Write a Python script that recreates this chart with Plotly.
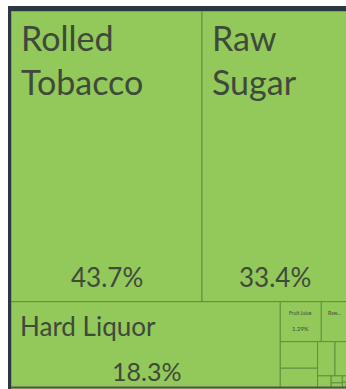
import plotly.graph_objects as go

# ---- data (export shares, %) ----
products = ["Rolled Tobacco", "Raw Sugar", "Hard Liquor", "Fruit Juice", "Raw Tobacco",
            "Crustaceans", "Nickel Mattes", "Coffee", "Molluscs", "Honey",
            "Fish Fillets", "Scrap Copper", "Vaccines", "Cigarettes", "Citrus"]
shares = [43.7, 33.4, 18.3, 1.29, 0.84, 0.78, 0.58, 0.47, 0.35, 0.13,
          0.062, 0.045, 0.028, 0.018, 0.008]

# ---- style ----
FILL = "#93c85a"
EDGE = "#5f8f3e"
FRAME = "#2d3740"
TXT = "#3e4a3a"
FONT = "Lato"
W, H = 337.0, 377.0

# label styling per visible box: (display label, label size, pct size, mode)
label_style = {
    "Rolled Tobacco": ("Rolled<br>Tobacco", 34, 26, "big"),
    "Raw Sugar": ("Raw<br>Sugar", 34, 26, "big"),
    "Hard Liquor": ("Hard Liquor", 26, 25, "wide"),
    "Fruit Juice": ("Fruit Juice", 5, 6, "tiny"),
    "Raw Tobacco": ("Raw...", 5, 0, "tiny"),
}

PHI = (1 + 5 ** 0.5) / 2


def squarify(values, x0, y0, x1, y1, ratio=PHI):
    rects = [None] * len(values)
    n = len(values)
    i0 = i1 = 0
    value = float(sum(values))
    while i0 < n:
        dx, dy = x1 - x0, y1 - y0
        sumv = values[i1]
        i1 += 1
        minv = maxv = sumv
        alpha = max(dy / dx, dx / dy) / (value * ratio)
        beta = sumv * sumv * alpha
        minr = max(maxv / beta, beta / minv)
        while i1 < n:
            nv = values[i1]
            s2 = sumv + nv
            mn, mx = min(minv, nv), max(maxv, nv)
            beta = s2 * s2 * alpha
            nr = max(mx / beta, beta / mn)
            if nr > minr:
                break
            sumv, minv, maxv, minr = s2, mn, mx, nr
            i1 += 1
        row = range(i0, i1)
        if dx < dy:
            yb = y0 + dy * sumv / value
            xx = x0
            for i in row:
                w = dx * values[i] / sumv
                rects[i] = (xx, y0, xx + w, yb)
                xx += w
            y0 = yb
        else:
            xb = x0 + dx * sumv / value
            yy = y0
            for i in row:
                h = dy * values[i] / sumv
                rects[i] = (x0, yy, xb, yy + h)
                yy += h
            x0 = xb
        value -= sumv
        i0 = i1
    return rects


rects = squarify(shares, 0.0, 0.0, W, H)

fig = go.Figure()
shapes = []
annotations = []

for name, val, (x0, y0, x1, y1) in zip(products, shares, rects):
    shapes.append(dict(type="rect", xref="x", yref="y", x0=x0, y0=y0, x1=x1, y1=y1,
                       fillcolor=FILL, line=dict(color=EDGE, width=1), layer="below"))
    if name not in label_style:
        continue
    lab, lsize, psize, mode = label_style[name]
    pct = f"{val:.3g}%"
    cx = (x0 + x1) / 2
    if mode == "big":
        annotations.append(dict(x=x0 + 8, y=y0 + 4, text=lab, xanchor="left", yanchor="top",
                                showarrow=False, font=dict(family=FONT, size=lsize, color=TXT),
                                align="left"))
        annotations.append(dict(x=cx, y=y1 - 25, text=pct, xanchor="center", yanchor="middle",
                                showarrow=False, font=dict(family=FONT, size=psize, color=TXT)))
    elif mode == "wide":
        annotations.append(dict(x=x0 + 7, y=y0 + 6, text=lab, xanchor="left", yanchor="top",
                                showarrow=False, font=dict(family=FONT, size=lsize, color=TXT)))
        annotations.append(dict(x=cx + 1, y=y1 - 17, text=pct, xanchor="center", yanchor="middle",
                                showarrow=False, font=dict(family=FONT, size=psize, color=TXT)))
    else:
        annotations.append(dict(x=cx, y=y0 + 11, text=lab, xanchor="center", yanchor="middle",
                                showarrow=False, font=dict(family=FONT, size=lsize, color=TXT)))
        if psize:
            annotations.append(dict(x=cx, y=y0 + 27, text=pct, xanchor="center", yanchor="middle",
                                    showarrow=False, font=dict(family=FONT, size=psize, color=TXT)))

# frame (dark bars on top and left) and bottom edge
shapes.append(dict(type="rect", xref="x", yref="y", x0=-3, x1=W + 20, y0=-5, y1=0,
                   fillcolor=FRAME, line=dict(width=0)))
shapes.append(dict(type="rect", xref="x", yref="y", x0=-3, x1=0, y0=-5, y1=H + 5,
                   fillcolor=FRAME, line=dict(width=0)))
shapes.append(dict(type="line", xref="x", yref="y", x0=0, x1=W + 20, y0=H - 0.5, y1=H - 0.5,
                   line=dict(color="#4a5a44", width=2)))

fig.update_layout(
    width=346, height=389,
    margin=dict(l=0, r=0, t=0, b=0),
    paper_bgcolor="white", plot_bgcolor="white",
    xaxis=dict(range=[-11, 335], visible=False, fixedrange=True),
    yaxis=dict(range=[378, -11], visible=False, fixedrange=True),
    shapes=shapes, annotations=annotations, showlegend=False,
)

fig.write_html("out.html")
